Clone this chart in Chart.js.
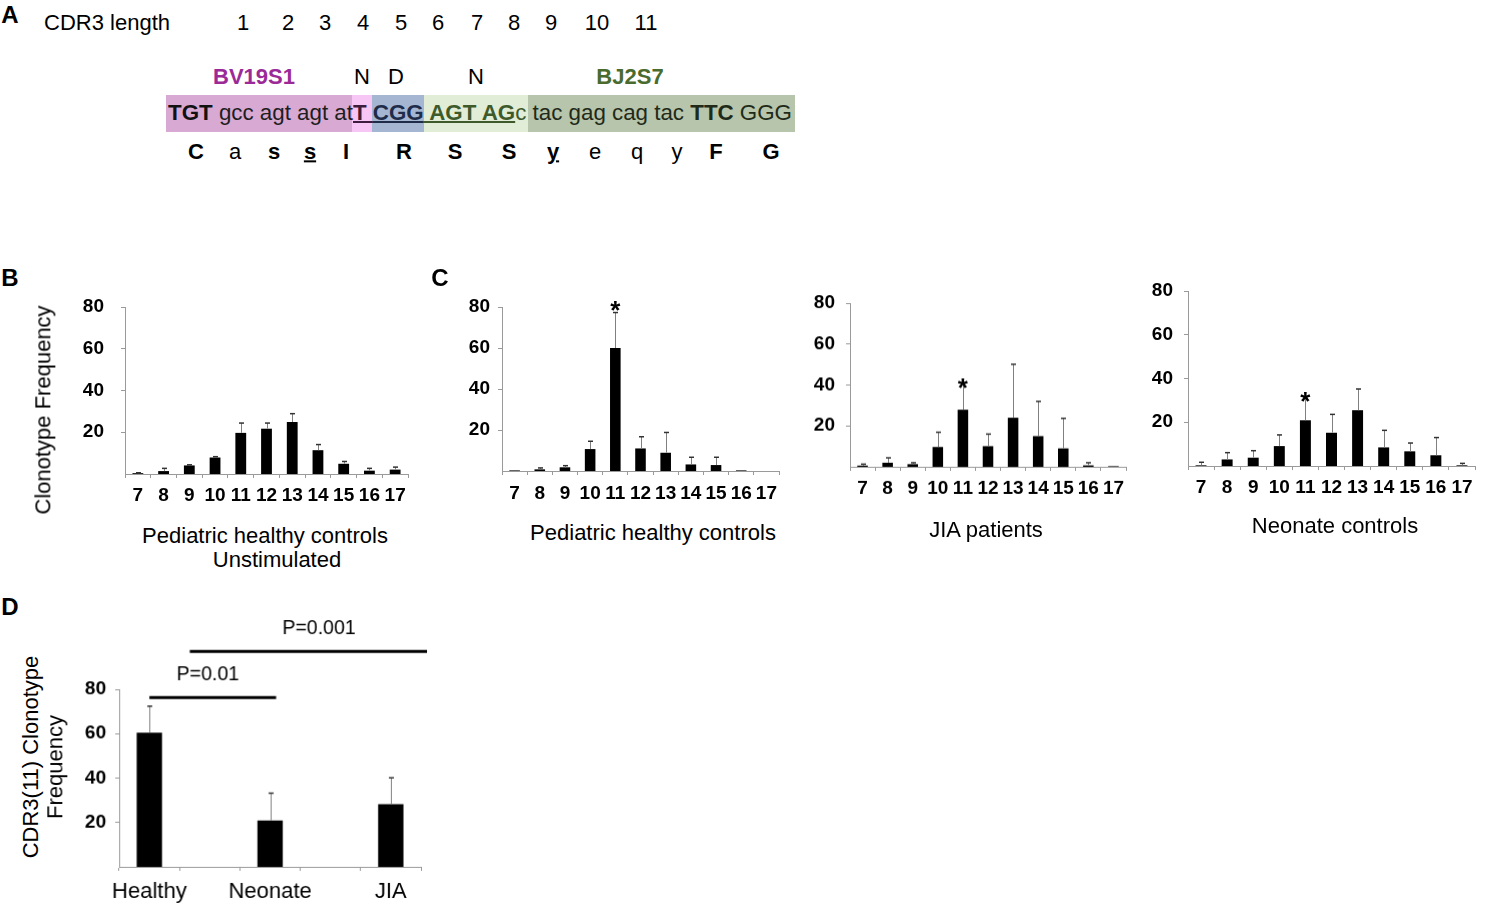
<!DOCTYPE html>
<html><head><meta charset="utf-8">
<script src="https://cdn.jsdelivr.net/npm/chart.js@4.4.1/dist/chart.umd.min.js"></script>
<style>
html,body{margin:0;padding:0;background:#fff;}
#page{position:relative;width:1490px;height:911px;overflow:hidden;font-family:"Liberation Sans",Arial,Helvetica,sans-serif;color:#000;}
.t{position:absolute;white-space:nowrap;transform:translate(-50%,-50%);line-height:1.15;z-index:5;}
.rot{transform:translate(-50%,-50%) rotate(-90deg);}
.band{position:absolute;z-index:1;}
canvas{position:absolute;z-index:2;}
</style></head><body><div id="page"></div>
<script>
// ---------------- data ----------------
const cdr3Lengths = ['7','8','9','10','11','12','13','14','15','16','17'];
const yTickValues = [20, 40, 60, 80];

const unstimMean  = [0.4, 1.4, 4.1, 7.9, 19.7, 21.7, 24.9, 11.4, 4.9, 1.6, 2.1];
const unstimSD    = [0.2, 1.3, 0.3, 0.4, 4.7, 2.7, 4.0, 2.7, 1.1, 1.1, 1.2];

const healthyMean = [0.3, 0.8, 1.8, 10.7, 60.0, 11.0, 8.9, 3.2, 2.9, 0.3, 0];
const healthySD   = [0, 0.7, 0.8, 3.8, 17.3, 5.7, 9.9, 3.5, 3.8, 0, 0];

const jiaMean     = [0.6, 2.0, 1.3, 9.7, 27.9, 10.1, 24.0, 15.0, 9.0, 0.7, 0.3];
const jiaSD       = [0.7, 2.4, 0.7, 7.2, 13.1, 5.9, 26.1, 17.0, 14.7, 1.3, 0];

const neoMean     = [0.3, 3.0, 3.8, 9.1, 20.9, 15.2, 25.5, 8.5, 6.7, 4.9, 0.3];
const neoSD       = [1.4, 3.1, 3.2, 5.1, 10.1, 8.4, 9.7, 7.8, 3.8, 8.1, 0.9];

const starLength  = ['11'];

const groups      = ['Healthy', 'Neonate', 'JIA'];
const cdr11Mean   = [60.5, 20.9, 28.2];
const cdr11SD     = [11.9, 12.3, 11.9];

const sigText     = ['P=0.01', 'P=0.001'];
const sigFrom     = [0, 0.67];   // in axis slot units
const sigTo       = [2.1, 4.6];
const sigLevel    = [76.3, 97.1];
const sigTextAt   = [0.97, 2.81];

// ---------------- helpers ----------------
const page = document.getElementById('page');
Chart.defaults.font.family = '"Liberation Sans", Arial, Helvetica, sans-serif';
Chart.defaults.color = '#000';

function txt(html, x, y, css, rot) {
  const d = document.createElement('div');
  d.className = 't' + (rot ? ' rot' : '');
  d.style.left = x + 'px'; d.style.top = y + 'px';
  d.style.cssText += css || '';
  d.innerHTML = html;
  page.appendChild(d);
  return d;
}
function band(x0, x1, y0, y1, col) {
  const d = document.createElement('div');
  d.className = 'band';
  d.style.left = x0 + 'px'; d.style.top = y0 + 'px';
  d.style.width = (x1 - x0) + 'px'; d.style.height = (y1 - y0) + 'px';
  d.style.background = col;
  page.appendChild(d);
}

const errorBarPlugin = {
  id: 'errorBars',
  afterDatasetsDraw(chart) {
    const ctx = chart.ctx, ys = chart.scales.y;
    chart.data.datasets.forEach((ds, di) => {
      const meta = chart.getDatasetMeta(di);
      (ds.errors || []).forEach((e, i) => {
        const v = ds.data[i];
        if (v == null || !e) return;
        const x = Math.round(meta.data[i].x) + 0.5;
        const y0 = ys.getPixelForValue(v), y1 = ys.getPixelForValue(v + e);
        ctx.save();
        ctx.strokeStyle = '#808080'; ctx.lineWidth = 1;
        ctx.beginPath(); ctx.moveTo(x, y0); ctx.lineTo(x, y1); ctx.stroke();
        ctx.strokeStyle = '#333'; ctx.lineWidth = 1.5;
        ctx.beginPath(); ctx.moveTo(x - 2.5, y1); ctx.lineTo(x + 2.5, y1); ctx.stroke();
        ctx.restore();
      });
    });
  }
};

const starPlugin = {
  id: 'stars',
  afterDatasetsDraw(chart, args, opts) {
    if (!opts || !opts.labels) return;
    const ctx = chart.ctx, ys = chart.scales.y;
    const ds = chart.data.datasets[0], meta = chart.getDatasetMeta(0);
    opts.labels.forEach(lab => {
      const i = chart.data.labels.indexOf(lab);
      if (i < 0) return;
      const top = ys.getPixelForValue(ds.data[i] + (ds.errors[i] || 0));
      const fs = 26;
      ctx.save();
      ctx.font = 'bold ' + fs + 'px "Liberation Sans", Arial, sans-serif';
      ctx.fillStyle = '#000'; ctx.textAlign = 'center'; ctx.textBaseline = 'alphabetic';
      ctx.fillText('*', meta.data[i].x, top - opts.offset + 0.58 * fs);
      ctx.restore();
    });
  }
};

const sigPlugin = {
  id: 'sig',
  afterDraw(chart, args, opts) {
    if (!opts || !opts.text) return;
    const ctx = chart.ctx, xs = chart.scales.x, ys = chart.scales.y;
    opts.text.forEach((t, k) => {
      const y = ys.getPixelForValue(opts.level[k]);
      ctx.save();
      ctx.strokeStyle = '#000'; ctx.lineWidth = 3;
      ctx.beginPath();
      ctx.moveTo(xs.getPixelForValue(opts.from[k]), y);
      ctx.lineTo(xs.getPixelForValue(opts.to[k]), y);
      ctx.stroke();
      ctx.font = '19.5px "Liberation Sans", Arial, sans-serif';
      ctx.fillStyle = '#000'; ctx.textAlign = 'center'; ctx.textBaseline = 'middle';
      ctx.fillText(t, xs.getPixelForValue(opts.textAt[k]), y - opts.gap);
      ctx.restore();
    });
  }
};

function makeChart(area, labels, values, errors, o) {
  const Yw = 70, Xh = o.xh || 45;
  const pad = { top: o.padTop || 20, right: o.padRight || 15, left: 0, bottom: 0 };
  const L = area.left - Yw, T = area.top - pad.top;
  const W = area.right + pad.right - L, H = area.bottom + Xh - T;
  const c = document.createElement('canvas');
  c.style.left = L + 'px'; c.style.top = T + 'px';
  c.style.width = W + 'px'; c.style.height = H + 'px';
  c.width = W; c.height = H;
  page.appendChild(c);
  const zeroPad = s => { s.paddingLeft = s.paddingRight = s.paddingTop = s.paddingBottom = 0; };
  return new Chart(c, {
    type: 'bar',
    data: { labels, datasets: [{ data: values, errors, backgroundColor: '#000', borderWidth: 0,
      barPercentage: o.bp || 0.42, categoryPercentage: 1 }] },
    options: {
      responsive: false, animation: false,
      layout: { padding: pad },
      plugins: {
        legend: { display: false }, tooltip: { enabled: false },
        stars: o.stars || {}, sig: o.sig || {}
      },
      scales: {
        x: {
          grid: { display: true, offset: true, drawOnChartArea: false, drawTicks: true, tickLength: 4, color: '#9a9a9a' },
          border: { display: true, color: '#9a9a9a', width: 1 },
          ticks: { color: '#000', font: { size: o.xFont || 19, weight: o.xWeight || 'bold' },
            padding: o.xPad, maxRotation: 0, minRotation: 0, autoSkip: false },
          afterFit(s) { s.height = Xh; zeroPad(s); }
        },
        y: {
          min: 0, max: 80,
          grid: { display: true, drawOnChartArea: false, drawTicks: true, tickLength: 4, color: '#9a9a9a' },
          border: { display: true, color: '#9a9a9a', width: 1 },
          ticks: { color: '#000', font: { size: 19, weight: 'bold' }, padding: o.yPad },
          afterBuildTicks(s) { s.ticks = yTickValues.map(v => ({ value: v })); },
          afterFit(s) { s.width = Yw; zeroPad(s); }
        }
      }
    },
    plugins: [errorBarPlugin, starPlugin, sigPlugin]
  });
}

// ---------------- panel A ----------------
const F = 'font-size:22px;';
txt('A', 10, 15, 'font-size:24px;font-weight:bold;');
txt('CDR3 length', 107, 23, F);
const posNums = ['1','2','3','4','5','6','7','8','9','10','11'];
const posX = [243, 288, 325, 363, 401, 438, 477, 514, 551, 597, 646];
posNums.forEach((n, i) => txt(n, posX[i], 23, F));

txt('BV19S1', 254, 77, F + 'font-weight:bold;color:#9b2a97;');
txt('N', 362, 77, F);
txt('D', 396, 77, F);
txt('N', 476, 77, F);
txt('BJ2S7', 630, 77, F + 'font-weight:bold;color:#4a6b2d;');

band(166, 352, 95, 132, '#d8a9d3');
band(352, 372, 95, 132, '#f8c6f4');
band(372, 424, 95, 132, '#a5b6d3');
band(424, 528, 95, 132, '#e2edd7');
band(528, 795, 95, 132, '#b6c5ab');

const seq = document.createElement('div');
seq.style.cssText = 'position:absolute;left:168px;top:100px;white-space:nowrap;font-size:22px;line-height:26px;z-index:5;color:#1e1e1e;transform-origin:0 0;';
seq.innerHTML =
  '<b style="color:#111">TGT</b> gcc agt agt at' +
  '<b style="color:#3e1c3d;text-decoration:underline;text-decoration-thickness:2px;">T </b>' +
  '<b style="color:#1e2c4a;text-decoration:underline;text-decoration-thickness:2px;">CGG</b>' +
  '<b style="color:#3e5a2b;text-decoration:underline;text-decoration-thickness:2px;"> AGT AG</b>' +
  '<span style="color:#3e5a2b">c</span>' +
  '<span style="color:#1f2a19"> tac gag cag tac <b>TTC</b> GGG</span>';
page.appendChild(seq);
const sw = seq.getBoundingClientRect().width;
seq.style.transform = 'scaleX(' + (624 / sw) + ')';

const aa = [['C',196,1,0],['a',235,0,0],['s',274,1,0],['s',310,1,1],['I',346,1,0],['R',404,1,0],
            ['S',455,1,0],['S',509,1,0],['y',553,1,1],['e',595,0,0],['q',637,0,0],['y',677,0,0],
            ['F',716,1,0],['G',771,1,0]];
aa.forEach(a => txt(a[0], a[1], 152, 'font-size:22px;' + (a[2] ? 'font-weight:bold;' : '') +
  (a[3] ? 'text-decoration:underline;text-decoration-thickness:2px;' : '')));

// ---------------- panel B ----------------
txt('B', 10, 278, 'font-size:24px;font-weight:bold;');
makeChart({ left: 125, right: 408, top: 306.7, bottom: 474 }, cdr3Lengths, unstimMean, unstimSD,
  { xPad: 6, yPad: 17 });
txt('Clonotype Frequency', 43, 410, F, true);
txt('Pediatric healthy controls', 265, 536, F);
txt('Unstimulated', 277, 560, F);

// ---------------- panel C ----------------
txt('C', 440, 278, 'font-size:24px;font-weight:bold;');
makeChart({ left: 502, right: 779, top: 307, bottom: 471 }, cdr3Lengths, healthyMean, healthySD,
  { xPad: 7, yPad: 8, padTop: 30, stars: { labels: starLength, offset: 9 } });
txt('Pediatric healthy controls', 653, 533, F);

makeChart({ left: 850, right: 1126, top: 303.3, bottom: 466.7 }, cdr3Lengths, jiaMean, jiaSD,
  { xPad: 6, yPad: 11, stars: { labels: starLength, offset: 2 } });
txt('JIA patients', 986, 530, F);

makeChart({ left: 1188, right: 1475, top: 291, bottom: 466 }, cdr3Lengths, neoMean, neoSD,
  { xPad: 6, yPad: 11, padRight: 10, stars: { labels: starLength, offset: 3 } });
txt('Neonate controls', 1335, 526, F);

// ---------------- panel D ----------------
txt('D', 10, 607, 'font-size:24px;font-weight:bold;');
const dLabels = [], dMean = [], dSD = [];
groups.forEach((g, i) => {
  if (i > 0) { dLabels.push(''); dMean.push(null); dSD.push(0); }
  dLabels.push(g); dMean.push(cdr11Mean[i]); dSD.push(cdr11SD[i]);
});
makeChart({ left: 119.3, right: 420.7, top: 689, bottom: 866.7 }, dLabels, dMean, dSD,
  { xPad: 8, yPad: 9, xFont: 22, xWeight: 'normal', padTop: 80, padRight: 20,
    sig: { text: sigText, from: sigFrom, to: sigTo, level: sigLevel, textAt: sigTextAt, gap: 23 } });
txt('CDR3(11) Clonotype', 31, 757, F, true);
txt('Frequency', 55, 767, F, true);
</script></body></html>
